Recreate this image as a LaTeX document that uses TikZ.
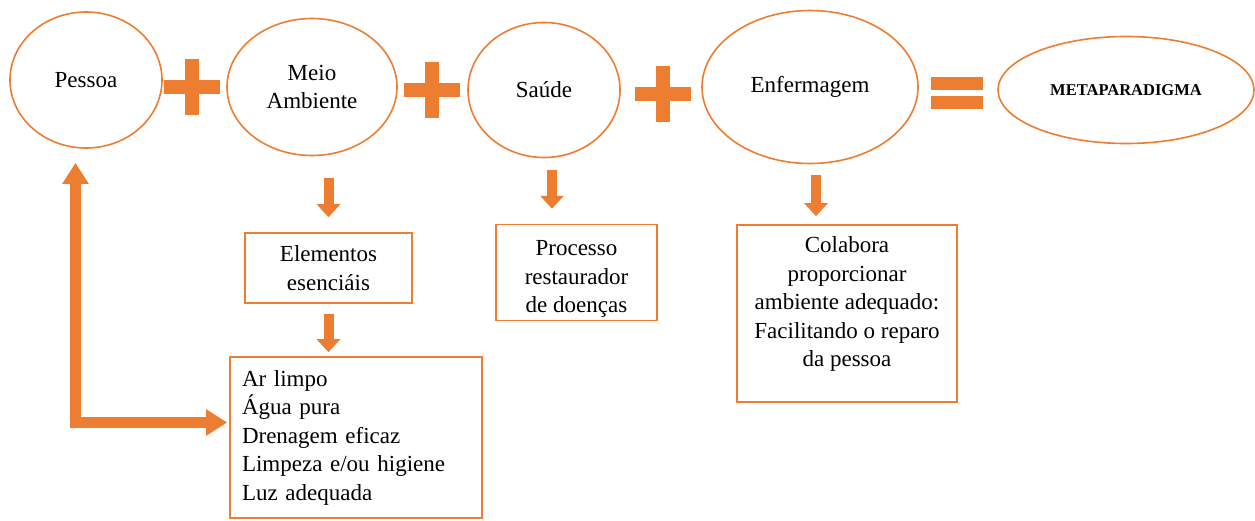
\documentclass[tikz,border=0pt]{standalone}
\usepackage{fontspec}
\setmainfont{Liberation Serif}
\usetikzlibrary{arrows.meta,shapes.geometric,calc}
\definecolor{laranja}{RGB}{237,125,49}

\begin{document}
\begin{tikzpicture}[x=1pt,y=1pt,yscale=-1,xscale=1,
  oval/.style={draw=laranja,line width=1.6pt,ellipse,inner sep=0pt,align=center,font=\fontsize{23}{28.5}\selectfont},
  caixa/.style={draw=laranja,line width=1.6pt,rectangle,inner sep=0pt,align=center,font=\fontsize{23}{28.5}\selectfont},
  seta/.style={draw=laranja,line width=10pt,-{Triangle[width=23pt,length=13pt]}},
  setaL/.style={draw=laranja,line width=11.5pt,line join=miter,{Triangle[width=25pt,length=21pt]}-{Triangle[width=25pt,length=21pt]}},
  sinal/.style={fill=laranja}]
\useasboundingbox (0,0) rectangle (1255,520);

%Shape: Ellipse
\node[oval,minimum width=152pt,minimum height=136pt] (pessoa) at (86,80) {Pessoa};
%Shape: Ellipse
\node[oval,minimum width=170pt,minimum height=137pt] (meio) at (312,87) {Meio\\Ambiente};
%Shape: Ellipse
\node[oval,minimum width=152pt,minimum height=135pt] (saude) at (544,90) {Saúde};
%Shape: Ellipse
\node[oval,minimum width=216pt,minimum height=153pt] (enf) at (810,87) {Enfermagem};
%Shape: Ellipse
\node[oval,minimum width=256pt,minimum height=107pt,font=\fontsize{16.5}{20}\selectfont\bfseries] (meta) at (1126,90) {METAPARADIGMA};

%Shape: Plus signs
\foreach \cx/\cy in {191.5/87, 432/90, 663/94}{
  \fill[sinal] (\cx-28,\cy-7) rectangle (\cx+28,\cy+7);
  \fill[sinal] (\cx-7,\cy-28) rectangle (\cx+7,\cy+28);
}
%Shape: Equal sign
\fill[sinal] (931,77) rectangle (983,90);
\fill[sinal] (931,96) rectangle (983,109);

%Shape: Rectangle
\node[caixa,minimum width=167pt,minimum height=70pt] (elem) at (328.5,268) {Elementos\\esenciáis};
%Shape: Rectangle
\node[caixa,inner ysep=3pt,minimum width=161pt] (proc) at (576.5,272.5) {\parbox[c][85pt][b]{155pt}{\centering Processo\\restaurador\\de doenças}};
%Shape: Rectangle
\node[caixa,inner ysep=8pt,minimum width=220pt] (colab) at (847,313.5) {\parbox[c][161pt][t]{214pt}{\centering\strut Colabora\\proporcionar\\ambiente adequado:\\Facilitando o reparo\\da pessoa}};
%Shape: Rectangle
\node[caixa,align=left,text width=228pt,inner xsep=12pt,minimum height=161pt] (lista) at (356,437.5) {Ar limpo\\Água pura\\Drenagem eficaz\\Limpeza e/ou higiene\\Luz adequada};

%Straight Arrows
\draw[seta,shorten <=22pt,shorten >=15pt] (elem.north |- meio.south) -- (elem.north);
\draw[seta,shorten <=10pt,shorten >=4pt] (elem.south) -- (elem.south |- lista.north);
\draw[seta,shorten <=12pt,shorten >=15pt] ([xshift=8pt]saude.south) -- ([xshift=8pt]saude.south |- proc.north);
\draw[seta,shorten <=11pt,shorten >=8pt] ([xshift=6pt]enf.south) -- ([xshift=6pt]enf.south |- colab.north);

%Elbow Arrow
\coordinate (canto) at (75.5,422.5);
\draw[setaL,shorten >=2pt] ($(canto |- pessoa.south)+(0,14)$) -- (canto) -- (canto -| lista.west);

\end{tikzpicture}
\end{document}
